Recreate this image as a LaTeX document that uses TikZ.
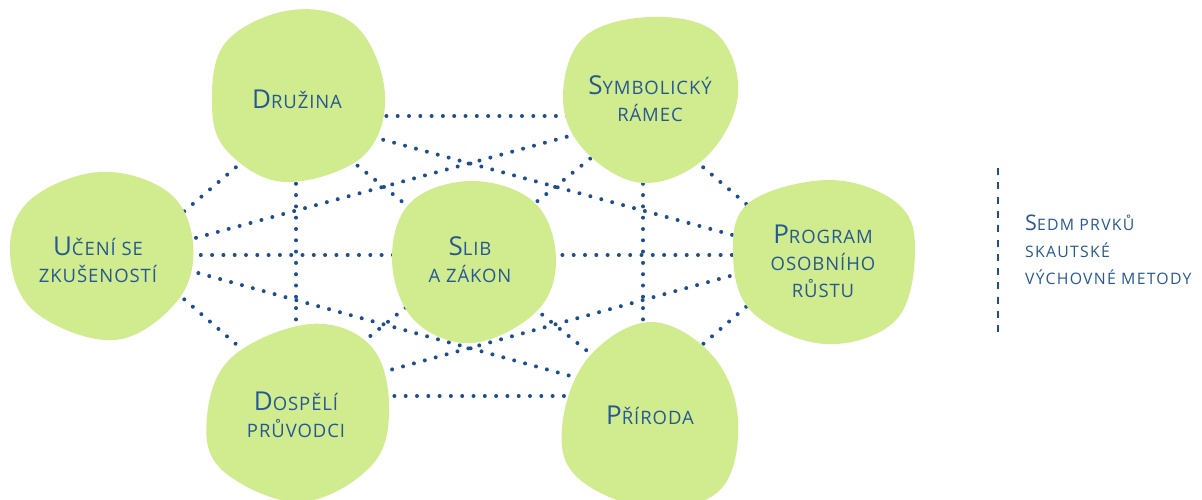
\documentclass[tikz,border=0pt]{standalone}
\usepackage{fontspec}
\setmainfont{Open Sans}
\definecolor{txtblue}{RGB}{40,88,145}
\definecolor{dotblue}{RGB}{31,78,140}
\definecolor{blobgreen}{RGB}{208,236,143}
\newcommand\smcap[2]{{\fontsize{26}{27}\selectfont #1}{\fontsize{18.5}{27}\selectfont #2}}
\newcommand\rcap[2]{{\fontsize{21.5}{27}\selectfont #1}{\fontsize{15.8}{27}\selectfont #2}}
\tikzset{
  link/.style={dotblue, line width=4pt, line cap=round, dash pattern=on 0pt off 11.3pt},
  blob/.style={fill=blobgreen, draw=none},
  lbl/.style={txtblue, align=center, inner sep=0pt, font=\addfontfeature{LetterSpace=5}\fontsize{18.5}{27}\selectfont},
  side/.style={txtblue, align=left, anchor=north west, inner sep=0pt, font=\addfontfeature{LetterSpace=8}\fontsize{15.8}{27}\selectfont},
  sep/.style={dotblue, line width=2pt, dash pattern=on 7pt off 7.3pt}
}
\begin{document}
\begin{tikzpicture}[x=1pt,y=-1pt]
\useasboundingbox (0,0) rectangle (1202,500);
% connection points
\coordinate (cD) at (296,116);
\coordinate (cS) at (643,116);
\coordinate (cP) at (806,255);
\coordinate (cPr) at (643,396);
\coordinate (cDo) at (296,396);
\coordinate (cU) at (133,255);
% connectors
\foreach \a/\b in {cD/cS,cD/cP,cD/cPr,cD/cDo,cD/cU,cS/cP,cS/cPr,cS/cDo,cS/cU,cU/cP,cU/cPr,cU/cDo,cP/cPr,cP/cDo,cPr/cDo}
  \draw[link] (\a) -- (\b);
% blobs
\tikzset{blobcurve/.style={smooth cycle, tension=0.63}}
\fill[blob] plot[blobcurve] coordinates {(212,105) (226,42) (292,10) (356,26) (385,95) (362,157) (285,182) (228,152)};
\fill[blob] plot[blobcurve] coordinates {(563,100) (583,38) (650,17) (716,33) (738,95) (705,158) (643,183) (586,152)};
\fill[blob] plot[blobcurve] coordinates {(10,253) (30,200) (100,172) (168,192) (193,243) (178,300) (115,340) (35,312)};
\fill[blob] plot[blobcurve] coordinates {(392,260) (411,202) (473,181) (535,203) (556,260) (536,312) (472,343) (414,320)};
\fill[blob] plot[blobcurve] coordinates {(733,253) (750,202) (830,180) (897,203) (915,250) (896,320) (825,344) (752,312)};
\fill[blob] plot[blobcurve] coordinates {(207,417) (232,357) (310,324) (370,345) (389,405) (372,465) (300,502) (222,470)};
\fill[blob] plot[blobcurve] coordinates {(562,427) (588,358) (650,322) (712,355) (738,420) (720,490) (650,508) (578,478)};
% labels
\node[lbl] (druzina) at (297,99) {\smcap{D}{RUŽINA}};
\node[lbl] (symbol) at (650,99) {\smcap{S}{YMBOLICKÝ}\\RÁMEC};
\node[lbl] (uceni) at (98,260) {\smcap{U}{ČENÍ SE}\\ZKUŠENOSTÍ};
\node[lbl] (slib) at (470,260) {\smcap{S}{LIB}\\A ZÁKON};
\node[lbl] (program) at (823,261) {\smcap{P}{ROGRAM}\\OSOBNÍHO\\RŮSTU};
\node[lbl] (dospeli) at (296,415) {\smcap{D}{OSPĚLÍ}\\PRŮVODCI};
\node[lbl] (priroda) at (650,415) {\smcap{P}{ŘÍRODA}};
% side note
\coordinate (sepTop) at (998,168);
\coordinate (sepBot) at (998,332);
\draw[sep] (sepTop) -- (sepBot);
\node[side] (note) at (1025,215) {\rcap{S}{EDM PRVKŮ}\\SKAUTSKÉ\\VÝCHOVNÉ METODY};
\end{tikzpicture}
\end{document}
